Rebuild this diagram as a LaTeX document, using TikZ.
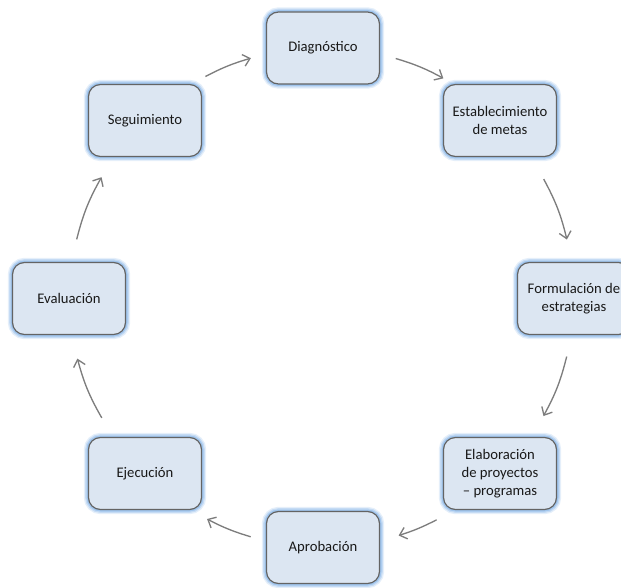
\documentclass[tikz,border=0pt]{standalone}
\usepackage{fontspec}
\setmainfont{Carlito}
\usetikzlibrary{arrows.meta,calc}
\definecolor{boxfill}{RGB}{220,230,242}
\definecolor{boxline}{RGB}{100,100,100}
\definecolor{glowc}{RGB}{150,190,235}
\definecolor{arrc}{RGB}{125,125,125}
\begin{document}
\begin{tikzpicture}[x=0.75pt,y=-0.75pt,
  stage/.style={draw=boxline, line width=0.9pt, fill=boxfill, rounded corners=9pt,
    minimum width=84.75pt, minimum height=54pt, align=center,
    font=\fontsize{11pt}{13.4pt}\selectfont, text=black!90, inner sep=2pt,
    preaction={draw=glowc!25, line width=7pt},
    preaction={draw=glowc!55, line width=5pt},
    preaction={draw=glowc!90, line width=3pt}},
  arr/.style={draw=arrc, line width=1pt, -{Straight Barb[length=5pt,width=9pt]}},
  guide/.style={looseness=0.886, bend left=22.5}]
\useasboundingbox (0,0) rectangle (621,588);
\node[stage] (diag) at (323,48) {Diagnóstico};
\node[stage] (est) at (500,120.5) {Establecimiento\\de metas};
\node[stage] (form) at (574,298.5) {Formulación de\\estrategias};
\node[stage] (elab) at (500,473.5) {Elaboración\\de proyectos\\– programas};
\node[stage] (apr) at (323,547.5) {Aprobación};
\node[stage] (ejec) at (145,473.5) {Ejecución};
\node[stage] (eval) at (69,298.5) {Evaluación};
\node[stage] (seg) at (145,120.5) {Seguimiento};
% guide arcs between node centres (invisible)
\path (seg.center) to[guide] coordinate[pos=0.38] (s1) coordinate[pos=0.63] (e1) (diag.center);
\path (diag.center) to[guide] coordinate[pos=0.375] (s2) coordinate[pos=0.64] (e2) (est.center);
\path (est.center) to[guide] coordinate[pos=0.37] (s3) coordinate[pos=0.70] (e3) (form.center);
\path (form.center) to[guide] coordinate[pos=0.30] (s4) coordinate[pos=0.63] (e4) (elab.center);
\path (elab.center) to[guide] coordinate[pos=0.40] (s5) coordinate[pos=0.61] (e5) (apr.center);
\path (apr.center) to[guide] coordinate[pos=0.37] (s6) coordinate[pos=0.61] (e6) (ejec.center);
\path (ejec.center) to[guide] coordinate[pos=0.36] (s7) coordinate[pos=0.69] (e7) (eval.center);
\path (eval.center) to[guide] coordinate[pos=0.30] (s8) coordinate[pos=0.64] (e8) (seg.center);
\draw[arr] (s1) to[bend left=5.6] (e1);
\draw[arr] (s2) to[bend left=6.0] (e2);
\draw[arr] (s3) to[bend left=7.4] (e3);
\draw[arr] (s4) to[bend left=7.4] (e4);
\draw[arr] (s5) to[bend left=4.7] (e5);
\draw[arr] (s6) to[bend left=5.4] (e6);
\draw[arr] (s7) to[bend left=7.4] (e7);
\draw[arr] (s8) to[bend left=7.6] (e8);
\end{tikzpicture}
\end{document}
